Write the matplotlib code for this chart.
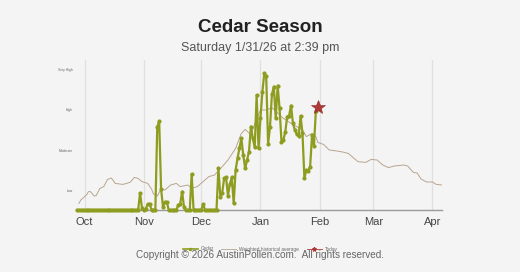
import numpy as np
import matplotlib
matplotlib.use("Agg")
import matplotlib.pyplot as plt
from matplotlib.lines import Line2D

# ---------------- data ----------------
season_start = np.datetime64("2025-10-01")

# Cedar pollen level, one value per day starting Sep 27 2025 (day offset -4)
cedar_start_offset = -4
cedar_vals = (
    [0.0] * 33                      # Sep 27 .. Oct 29 (day -4 .. 28)
    + [0.85, 0.1, 0.0, 0.05, 0.3, 0.3, 0.0, 0.0, 0.0,   # day 29 .. 37
       4.15, 4.45, 1.05, 0.15, 0.4, 0.4, 0.0, 0.0, 0.0, 0.0,   # day 38 .. 47
       0.0, 0.25, 0.3, 0.92, 0.15, 0.0, 0.0, 0.0, 1.8, 0.0,    # day 48 .. 57
       0.0, 0.0, 0.0, 0.0, 0.3, 0.0, 0.0, 0.0, 0.0, 0.0, 0.0,  # day 58 .. 68
       0.0,                                                    # day 69
       2.08, 0.67, 0.87, 1.58, 1.63, 0.72, 1.3, 1.63, 0.33, 2.0,   # day 70 .. 79
       2.58, 3.1, 3.58, 2.75, 2.08, 2.5, 2.92, 4.17, 3.58, 3.13,   # day 80 .. 89
       5.75, 3.08, 4.6, 5.9, 6.83, 6.7, 3.3, 4.17, 5.78, 6.17,     # day 90 .. 99
       4.58, 6.22, 5.08, 3.42, 3.5, 3.92, 4.67, 4.72, 5.22, 4.33,  # day 100 .. 109
       4.0, 3.78, 3.7, 4.7, 3.83, 1.58, 2.0, 1.95, 2.17, 3.75,     # day 110 .. 119
       3.22, 4.95, 5.1]                                            # day 120 .. 122
)

# Weighted historical average (day offset from Oct 1, level)
hist_days = [-3, -2, 0, 1, 2, 3, 5, 6, 8, 10, 12, 14, 16, 20, 22, 24, 26, 28,
             30, 33, 35, 36, 38, 40, 42, 45, 48, 50, 54, 56, 59, 62, 65, 68,
             72, 75, 79, 82, 84, 86, 87, 89, 92, 95, 98, 101, 104, 108, 111,
             114, 116, 119, 121, 122, 125, 128, 132, 135, 138, 141, 143, 147,
             150, 153, 156, 159, 162, 167, 169, 172, 174, 176, 179, 182, 184, 187]
hist_vals = [0.33, 0.5, 0.67, 0.75, 0.92, 0.92, 0.7, 0.72, 1.08, 1.17, 1.53,
             1.6, 1.33, 1.28, 1.33, 1.4, 1.63, 1.58, 1.42, 1.33, 1.05, 0.8,
             0.7, 1.05, 1.0, 1.25, 1.33, 1.17, 1.25, 1.08, 1.17, 1.42, 1.67,
             1.75, 2.17, 2.5, 3.08, 3.83, 4.03, 3.85, 3.75, 4.3, 5.0, 5.0,
             5.12, 4.85, 4.58, 4.33, 4.17, 4.0, 3.67, 3.83, 3.67, 3.38, 3.28,
             3.0, 2.95, 2.9, 2.83, 2.58, 2.42, 2.38, 2.53, 2.5, 2.25, 2.12,
             2.2, 2.25, 2.2, 1.88, 1.85, 1.55, 1.4, 1.4, 1.28, 1.25]

today_day = 122
today_val = 5.15

level_names = ["Low", "Moderate", "High", "Very High"]
level_pos = [1, 3, 5, 7]

month_labels = ["Oct", "Nov", "Dec", "Jan", "Feb", "Mar", "Apr"]
month_dates = ["2025-10-01", "2025-11-01", "2025-12-01", "2026-01-01",
               "2026-02-01", "2026-03-01", "2026-04-01"]

title = "Cedar Season"
subtitle = "Saturday 1/31/26 at 2:39 pm"
copyright_text = "Copyright \u00a9 2026 AustinPollen.com.  All rights reserved."

# ---------------- drawing ----------------
plt.rcParams["font.family"] = ["Liberation Sans", "DejaVu Sans"]

bg = "#f4f4f4"
green = "#8e9c20"
tan = "#b9a58f"
star_c = "#b03838"

fig = plt.figure(figsize=(5.2, 2.72), dpi=100, facecolor=bg)
ax = fig.add_axes([77 / 520, 1 - 210 / 272, (442 - 77) / 520, 150 / 272])
ax.set_facecolor(bg)

cedar_dates = season_start + np.arange(cedar_start_offset,
                                       cedar_start_offset + len(cedar_vals)).astype("timedelta64[D]")
hist_dates = season_start + np.array(hist_days).astype("timedelta64[D]")
today_date = season_start + np.timedelta64(today_day, "D")

mdates = [np.datetime64(d) for d in month_dates]
for d in mdates:
    ax.axvline(d, color="#e0e0e0", lw=0.9, zorder=0)

ax.plot(hist_dates, hist_vals, color=tan, lw=0.7, zorder=2)
ax.plot(cedar_dates, cedar_vals, color=green, lw=1.6, marker="o", ms=2.0,
        mec=green, mfc=green, zorder=3, clip_on=False)
ax.plot([today_date], [today_val], marker="*", ms=10, color=star_c,
        mec="#8a2a2a", mew=0.4, zorder=4, clip_on=False, ls="none")

ax.set_xlim(season_start - np.timedelta64(4, "D"), season_start + np.timedelta64(187, "D"))
ax.set_ylim(0, 7.5)

ax.set_xticks(mdates)
ax.set_xticklabels(month_labels, fontsize=8, color="#444444")
ax.tick_params(axis="x", length=0, pad=5)
ax.set_yticks(level_pos)
ax.set_yticklabels(level_names, fontsize=2.4, color="#666666")
ax.tick_params(axis="y", length=0, pad=3)

for s in ["top", "right", "left"]:
    ax.spines[s].set_visible(False)
ax.spines["bottom"].set_color("#9a9a9a")
ax.spines["bottom"].set_linewidth(1.0)

fig.text(0.5, 1 - 28 / 272, title, ha="center", va="center", fontsize=13.5,
         fontweight="bold", color="#222222")
fig.text(0.5, 1 - 48 / 272, subtitle, ha="center", va="center", fontsize=9,
         color="#555555")

handles = [
    Line2D([], [], color=green, lw=1.2, marker="o", ms=1.5),
    Line2D([], [], color=tan, lw=0.6),
    Line2D([], [], color=star_c, lw=0.6, marker="*", ms=3),
]
fig.legend(handles, ["Cedar", "Weighted historical average", "Today"],
           loc="center", bbox_to_anchor=(0.5, 1 - 249 / 272), ncol=3,
           frameon=False, fontsize=3.4, handlelength=3.2, handletextpad=0.6,
           columnspacing=1.6, labelcolor="#666666")

fig.text(0.5, 1 - 255 / 272, copyright_text, ha="center", va="center",
         fontsize=7.2, color="#666666")

fig.savefig("out.png", dpi=100, facecolor=bg)
